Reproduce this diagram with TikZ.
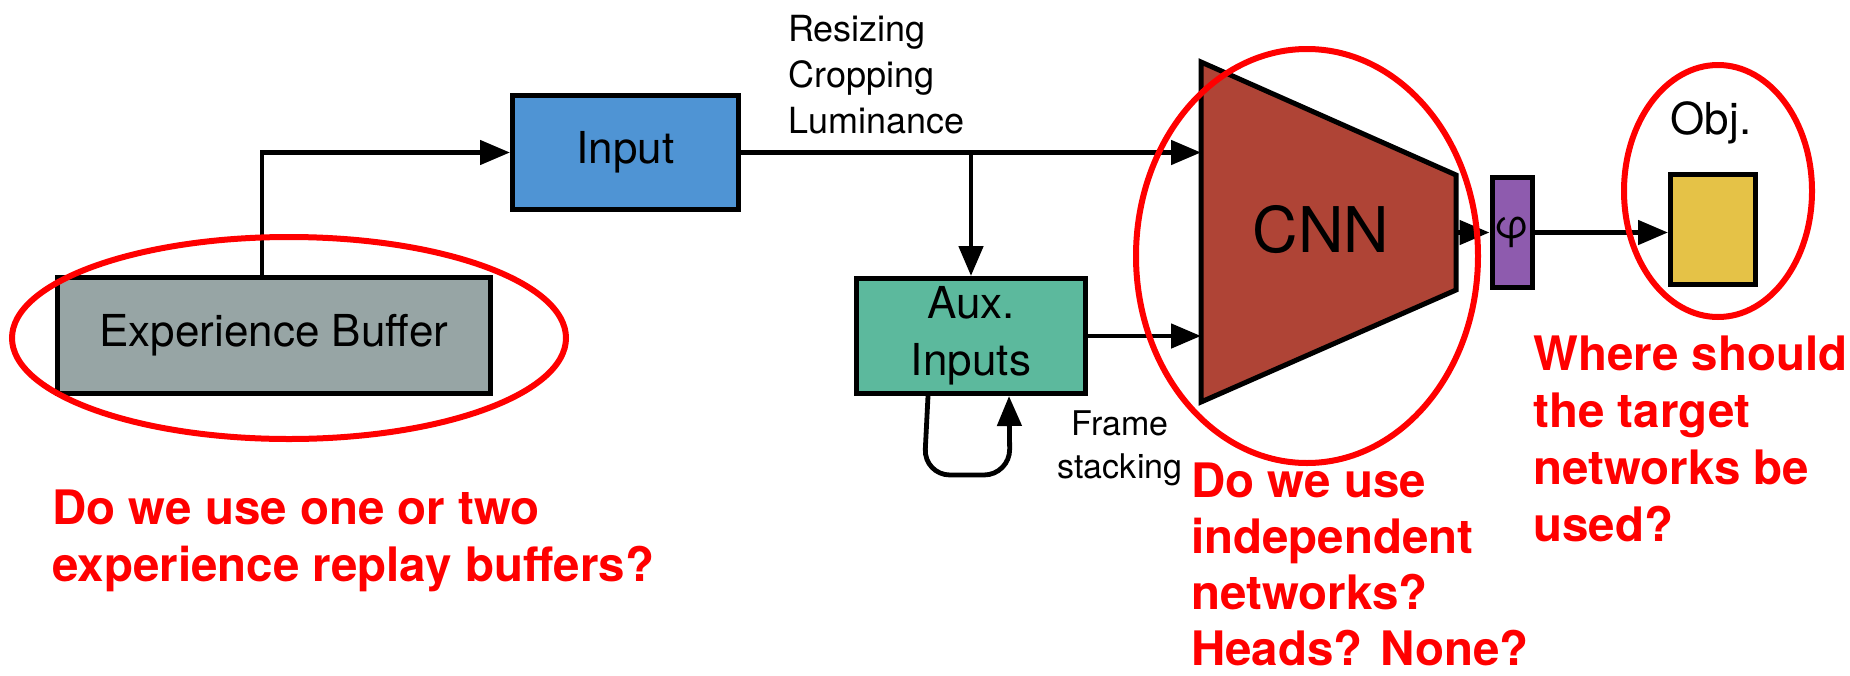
\documentclass[tikz,border=0pt]{standalone}
\usepackage{fontspec}
\setmainfont{TeX Gyre Heros}
\usetikzlibrary{arrows.meta,calc}

\definecolor{bufgrey}{HTML}{97A5A5}
\definecolor{inblue}{HTML}{4F94D4}
\definecolor{auxgreen}{HTML}{5CB99D}
\definecolor{cnnred}{HTML}{AF4436}
\definecolor{phipurple}{HTML}{8E5BAE}
\definecolor{objyellow}{HTML}{E5C247}
\definecolor{ringred}{RGB}{255,0,0}

\begin{document}
\begin{tikzpicture}[x=1pt,y=-1pt,
  block/.style={draw=black, line width=5pt, inner sep=0pt, align=center,
    font=\fontsize{44}{57}\selectfont},
  arr/.style={line width=4.8pt, -{Triangle[length=30pt,width=24pt]}},
  ring/.style={draw=ringred, line width=6pt},
  question/.style={text=ringred, inner sep=0pt, anchor=north west, align=left,
    font=\bfseries\fontsize{47.5}{57}\selectfont},
  note/.style={inner sep=0pt, align=center, font=\fontsize{34}{43}\selectfont}]

\useasboundingbox (0,0) rectangle (1850,675);

% pipeline blocks
\node[block, fill=bufgrey, minimum width=433pt, minimum height=116pt] (buf) at (274,335) {Experience Buffer};
\node[block, fill=inblue, minimum width=226pt, minimum height=114pt] (input) at (625.5,152.5) {Input};
\node[block, fill=auxgreen, minimum width=229pt, minimum height=115pt] (aux) at (971,336) {Aux.\\Inputs};
\node[block, fill=phipurple, minimum width=40pt, minimum height=110pt, font=\fontsize{40}{48}\selectfont] (phi) at (1512,232.5) {φ};
\node[block, fill=objyellow, minimum width=85pt, minimum height=110pt] (obj) at (1713,229.5) {};

% convolutional trunk drawn as a trapezoid
\filldraw[fill=cnnred, draw=black, line width=5pt, line join=miter]
  (1201,62) -- (1456,175) -- (1456,290) -- (1201,402) -- cycle;
\coordinate (cnnW) at (1201,232);
\coordinate (cnnE) at (1456,232);
\node[inner sep=0pt, font=\fontsize{63}{70}\selectfont] (cnnlabel) at (1321,230) {CNN};

% text labels
\node[inner sep=0pt, anchor=north west, align=left, font=\fontsize{36}{46}\selectfont] (prep) at (788,15) {Resizing\\Cropping\\Luminance};
\node[inner sep=0pt, anchor=base, font=\fontsize{44}{50}\selectfont] (objlabel) at (1711,134) {Obj.};
\node[note, anchor=north] (stack) at (1120,411) {Frame\\stacking};

% connectors
\draw[arr] ($(buf.north)+(-12,0)$) |- (input.west);
\draw[arr] (input.east) -- (input.east -| cnnW);
\draw[arr] (input.east -| aux.north) -- (aux.north);
\draw[arr] (aux.east) -- (aux.east -| cnnW);
\draw[arr, rounded corners=26pt] ($(aux.south)+(-43,0)$) -- ++(-4,79) -- ++(86,0) -- ($(aux.south)+(38,0)$);
\draw[arr] (phi.west -| cnnE) -- (phi.west);
\draw[arr] (phi.east) -- (phi.east -| obj.west);

% highlighted regions
\draw[ring] (289,338) ellipse [x radius=277pt, y radius=101pt];
\draw[ring] (1307,256) ellipse [x radius=171pt, y radius=207pt];
\draw[ring] (1718,191) ellipse [x radius=94pt, y radius=126pt];

% questions
\node[question] (q1) at (52,490) {Do we use one or two\\experience replay buffers?};
\node[question, font=\bfseries\fontsize{47.5}{56}\selectfont] (q2) at (1191,463) {Do we use\\independent\\networks?\\Heads? None?};
\node[question] (q3) at (1533,336) {Where should\\the target\\networks be\\used?};
\end{tikzpicture}
\end{document}
